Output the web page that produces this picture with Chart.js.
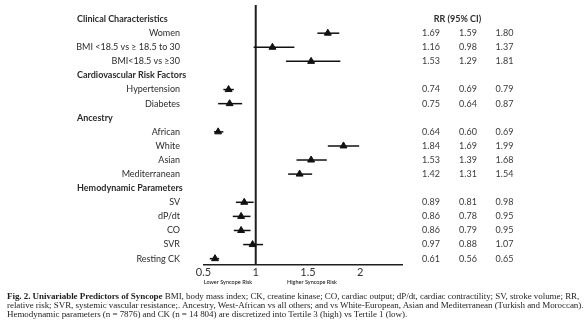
<!DOCTYPE html>
<html>
<head>
<meta charset="utf-8">
<script src="https://cdn.jsdelivr.net/npm/chart.js@4/dist/chart.umd.min.js"></script>
<style>
  html, body { margin: 0; padding: 0; background: #fff; }
  #wrap { position: relative; width: 584px; height: 325px; overflow: hidden; }
  #chart { position: absolute; left: 0; top: 0; }
  #caption {
    position: absolute; left: 7px; top: 291.5px; width: 572px;
    font-family: "Liberation Serif", "DejaVu Serif", serif;
    font-size: 9px; line-height: 9.2px; color: #1e1e1e; letter-spacing: -0.05px;
  }
  #caption div { white-space: nowrap; }
  #caption .j { text-align: justify; text-align-last: justify; }
  #caption .l { text-align: left; }
</style>
</head>
<body>
<div id="wrap">
  <canvas id="chart" width="584" height="325"></canvas>
  <div id="caption">
    <div class="j"><b>Fig. 2. Univariable Predictors of Syncope</b> BMI, body mass index; CK, creatine kinase; CO, cardiac output; dP/dt, cardiac contractility; SV, stroke volume; RR,</div>
    <div class="j">relative risk; SVR, systemic vascular resistance;. Ancestry, West-African vs all others; and vs White-European, Asian and Mediterranean (Turkish and Moroccan).</div>
    <div class="l">Hemodynamic parameters (n = 7876) and CK (n = 14 804) are discretized into Tertile 3 (high) vs Tertile 1 (low).</div>
  </div>
</div>
<script>
// Rows of the forest plot, top to bottom; rows without a relative risk are section headings.
const categories = [
  'Clinical Characteristics',
  'Women',
  'BMI <18.5 vs \u2265 18.5 to 30',
  'BMI<18.5 vs \u226530',
  'Cardiovascular Risk Factors',
  'Hypertension',
  'Diabetes',
  'Ancestry',
  'African',
  'White',
  'Asian',
  'Mediterranean',
  'Hemodynamic Parameters',
  'SV',
  'dP/dt',
  'CO',
  'SVR',
  'Resting CK'
];
const relativeRisk = [null, 1.69, 1.16, 1.53, null, 0.74, 0.75, null, 0.64, 1.84, 1.53, 1.42, null, 0.89, 0.86, 0.86, 0.97, 0.61];
const ciLower      = [null, 1.59, 0.98, 1.29, null, 0.69, 0.64, null, 0.60, 1.69, 1.39, 1.31, null, 0.81, 0.78, 0.79, 0.88, 0.56];
const ciUpper      = [null, 1.80, 1.37, 1.81, null, 0.79, 0.87, null, 0.69, 1.99, 1.68, 1.54, null, 0.98, 0.95, 0.95, 1.07, 0.65];

const xTickValues = [0.5, 1, 1.5, 2];
const xTickLabels = ['0.5', '1', '1.5', '2'];
const tableHeading = 'RR (95% CI)';
const directionLabels = ['Lower Syncope Risk', 'Higher Syncope Risk'];

const points = [];
relativeRisk.forEach((v, i) => { if (v !== null) points.push({ x: v, y: i }); });

const TEXT = '#2b2b2b';
const LABEL_FONT = 'Lato, "Liberation Sans", sans-serif';

const forestDecor = {
  id: 'forestDecor',
  beforeDatasetsDraw(chart) {
    const { ctx, chartArea, scales: { x, y } } = chart;
    ctx.save();
    // reference line at RR = 1
    ctx.strokeStyle = '#1e1e1e';
    ctx.lineWidth = 2;
    ctx.beginPath();
    const x1 = x.getPixelForValue(1);
    ctx.moveTo(x1, chartArea.top);
    ctx.lineTo(x1, chartArea.bottom);
    ctx.stroke();
    // confidence intervals
    ctx.strokeStyle = '#111';
    ctx.lineWidth = 1.5;
    relativeRisk.forEach((v, i) => {
      if (v === null) return;
      const py = y.getPixelForValue(i);
      ctx.beginPath();
      ctx.moveTo(x.getPixelForValue(ciLower[i]), py);
      ctx.lineTo(x.getPixelForValue(ciUpper[i]), py);
      ctx.stroke();
    });
    ctx.restore();
  },
  afterDraw(chart) {
    const { ctx, chartArea, scales: { x, y } } = chart;
    ctx.save();
    ctx.fillStyle = TEXT;
    ctx.textBaseline = 'middle';
    // row labels and section headings
    categories.forEach((label, i) => {
      const py = y.getPixelForValue(i);
      if (relativeRisk[i] === null) {
        ctx.font = 'bold 9px ' + LABEL_FONT;
        ctx.textAlign = 'left';
        ctx.fillText(label, 77, py);
      } else {
        ctx.font = '9px ' + LABEL_FONT;
        ctx.textAlign = 'right';
        ctx.fillText(label, 180, py);
      }
    });
    // table of RR and confidence limits
    ctx.font = 'bold 9px ' + LABEL_FONT;
    ctx.textAlign = 'center';
    ctx.fillText(tableHeading, 457.5, y.getPixelForValue(0));
    ctx.font = '9px ' + LABEL_FONT;
    ctx.fillStyle = '#3a3a3a';
    const cols = [431, 468, 504.5];
    relativeRisk.forEach((v, i) => {
      if (v === null) return;
      const py = y.getPixelForValue(i);
      [v, ciLower[i], ciUpper[i]].forEach((val, c) => {
        ctx.fillText(val.toFixed(2), cols[c], py);
      });
    });
    // direction labels under the axis
    ctx.fillStyle = TEXT;
    ctx.font = '600 5.5px ' + LABEL_FONT;
    ctx.fillText(directionLabels[0], 228, chartArea.bottom + 18);
    ctx.fillText(directionLabels[1], 312, chartArea.bottom + 18);
    ctx.restore();
  }
};

new Chart(document.getElementById('chart'), {
  type: 'scatter',
  data: {
    datasets: [{
      data: points,
      pointStyle: 'triangle',
      radius: 4,
      hoverRadius: 4,
      backgroundColor: '#111',
      borderColor: '#111',
      borderWidth: 1
    }]
  },
  options: {
    responsive: false,
    animation: false,
    events: [],
    layout: { padding: { left: 203.5, right: 182, top: 1.2, bottom: 0 } },
    plugins: { legend: { display: false }, tooltip: { enabled: false } },
    scales: {
      x: {
        type: 'linear',
        min: 0.5,
        max: 2.4,
        grid: { display: false, drawTicks: false },
        border: { display: true, color: '#1e1e1e', width: 1.5 },
        afterBuildTicks(scale) { scale.ticks = xTickValues.map(v => ({ value: v })); },
        afterFit(scale) { scale.height = 325 - 264.3; },
        ticks: {
          padding: 2,
          color: '#333',
          font: { family: 'Lato, "Liberation Sans", sans-serif', size: 11 },
          maxRotation: 0,
          autoSkip: false,
          callback: (v) => xTickLabels[xTickValues.indexOf(v)]
        }
      },
      y: {
        type: 'linear',
        display: false,
        reverse: true,
        min: -1,
        max: 17.4
      }
    }
  },
  plugins: [forestDecor]
});
</script>
</body>
</html>
